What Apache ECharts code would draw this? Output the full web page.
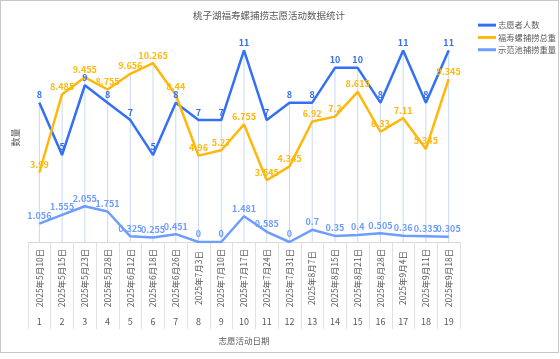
<!DOCTYPE html>
<html>
<head>
<meta charset="utf-8">
<script src="https://cdn.jsdelivr.net/npm/echarts@6/dist/echarts.min.js"></script>
<style>
html,body{margin:0;padding:0;background:#fff;}
#frame{position:absolute;left:0;top:0;width:559px;height:353px;border:1px solid #c8c8c8;box-sizing:border-box;}
#chart{position:absolute;left:0;top:0;width:560px;height:359px;}
</style>
</head>
<body>
<div id="frame"></div>
<div id="chart"></div>
<script>
const dates = ['2025年5月10日','2025年5月15日','2025年5月23日','2025年5月28日','2025年6月12日','2025年6月18日','2025年6月26日','2025年7月3日','2025年7月10日','2025年7月17日','2025年7月24日','2025年7月31日','2025年8月7日','2025年8月15日','2025年8月21日','2025年8月28日','2025年9月4日','2025年9月11日','2025年9月18日'];
const indices = ['1','2','3','4','5','6','7','8','9','10','11','12','13','14','15','16','17','18','19'];
const volunteers = [8,5,9,8,7,5,8,7,7,11,7,8,8,10,10,8,11,8,11];
const totalCatch = [3.99,8.485,9.455,8.755,9.656,10.265,8.44,4.96,5.27,6.755,3.545,4.345,6.92,7.2,8.615,6.33,7.11,5.345,9.345];
const demoPool = [1.056,1.555,2.055,1.751,0.325,0.255,0.451,0,0,1.481,0.585,0,0.7,0.35,0.4,0.505,0.36,0.335,0.305];
const seriesNames = ['志愿者人数','福寿螺捕捞总重','示范池捕捞重量'];

const dropLine = volunteers.map((v,i)=>Math.max(v,totalCatch[i],demoPool[i]));
const FONT = '"Noto Sans CJK SC","Noto Sans",sans-serif';
const TXT = '#595959';

function lineSeries(name, data, color){
  return {
    name, type:'line', data, xAxisIndex:0,
    symbol:'circle', symbolSize:1, showSymbol:true,
    lineStyle:{color, width:2.5},
    itemStyle:{color},
    label:{show:true, position:'top', distance:3, color, fontSize:9, fontWeight:'bold', fontFamily:FONT},
    z:3
  };
}

const chart = echarts.init(document.getElementById('chart'), null, {renderer:'canvas'});
chart.setOption({
  animation:false,
  backgroundColor:'transparent',
  title:{text:'桃子湖福寿螺捕捞志愿活动数据统计', left:188, top:6,
    textStyle:{fontSize:9.5, fontWeight:'normal', color:TXT, fontFamily:FONT}},
  legend:{data:seriesNames, orient:'vertical', left:473, top:16, itemWidth:18, itemHeight:3, itemGap:4,
    icon:'rect', textStyle:{fontSize:8.3, color:TXT, fontFamily:FONT, padding:[0,0,0,-3]}},
  grid:{left:28, right:100, top:33, bottom:117},
  xAxis:[{
    type:'category', data:dates, boundaryGap:true,
    axisLine:{show:true, lineStyle:{color:'#d9d9d9', width:1}},
    axisTick:{show:true, interval:0, length:87, lineStyle:{color:'#e0e0e0', width:1}},
    axisLabel:{interval:0, rotate:90, align:'center', verticalAlign:'middle', margin:36, fontSize:8.5, color:TXT, fontFamily:FONT},
    name:'志愿活动日期', nameLocation:'middle', nameGap:95,
    nameTextStyle:{fontSize:8.5, color:TXT, fontFamily:FONT}
  },{
    type:'category', data:indices, position:'bottom', boundaryGap:true,
    axisLine:{show:false}, axisTick:{show:false},
    axisLabel:{interval:0, margin:75, fontSize:9, color:TXT, fontFamily:FONT}
  }],
  yAxis:{
    type:'value', min:0, max:12,
    axisLabel:{show:false}, axisLine:{show:false}, axisTick:{show:false}, splitLine:{show:false},
    name:'数量', nameLocation:'middle', nameGap:8,
    nameTextStyle:{fontSize:9, color:TXT, fontFamily:FONT}
  },
  series:[
    {name:'drop', type:'bar', data:dropLine, barWidth:1, itemStyle:{color:'#c9d8f7'}, silent:true, z:1, label:{show:false}},
    lineSeries(seriesNames[0], volunteers, '#3370f5'),
    lineSeries(seriesNames[1], totalCatch, '#ffb80a'),
    lineSeries(seriesNames[2], demoPool, '#6e9cff')
  ]
});
</script>
</body>
</html>
